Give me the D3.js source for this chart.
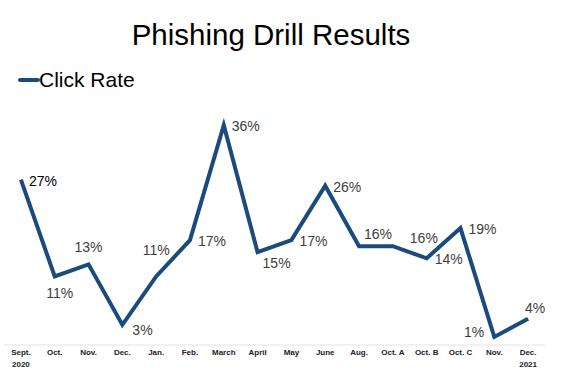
<!DOCTYPE html>
<html>
<head>
<meta charset="utf-8">
<script src="https://cdn.jsdelivr.net/npm/d3@7"></script>
<style>
  body { margin: 0; background: #fff; }
  svg { display: block; font-family: "Liberation Sans", Arial, sans-serif; }
</style>
</head>
<body>
<svg id="chart" width="563" height="379"></svg>
<script>
// chart data
const months = ['Sept.|2020', 'Oct.', 'Nov.', 'Dec.', 'Jan.', 'Feb.', 'March', 'April',
  'May', 'June', 'Aug.', 'Oct. A', 'Oct. B', 'Oct. C', 'Nov.', 'Dec.|2021']
const clickRate = [27, 11, 13, 3, 11, 17, 36, 15, 17, 26, 16, 16, 14, 19, 1, 4]
// where each data label sits relative to its point
const labelPos = ['right', 'below', 'above', 'lowRight', 'aboveFar', 'right', 'right', 'belowRight',
  'right', 'right', 'aboveRight', 'farRight', 'right', 'right', 'left', 'upRight']

const svg = d3.select('#chart')
const lineColor = '#1b4a7c'
const margin = { left: 4, right: 18, top: 101, bottom: 36 }
const width = 563, height = 379

// months repeat (Nov., Dec.), so the band scale runs on the index
const x = d3.scaleBand()
  .domain(d3.range(months.length))
  .range([margin.left, width - margin.right])
const cx = i => x(i) + x.bandwidth() / 2
const y = d3.scaleLinear()
  .domain([0, 40])
  .range([height - margin.bottom, margin.top])

// title + legend
svg.append('text')
  .attr('x', 271).attr('y', 45)
  .attr('text-anchor', 'middle')
  .attr('font-size', 29.5)
  .attr('fill', '#000')
  .text('Phishing Drill Results')

svg.append('line')
  .attr('x1', 20).attr('x2', 38)
  .attr('y1', 80).attr('y2', 80)
  .attr('stroke', lineColor).attr('stroke-width', 4).attr('stroke-linecap', 'round')
svg.append('text')
  .attr('x', 39).attr('y', 87)
  .attr('font-size', 21)
  .attr('fill', '#000')
  .text('Click Rate')

// baseline
svg.append('line')
  .attr('x1', margin.left).attr('x2', width - margin.right)
  .attr('y1', y(0) + 2).attr('y2', y(0) + 2)
  .attr('stroke', '#e3e3e3').attr('stroke-width', 1)

// category labels
svg.append('g')
  .attr('font-size', 8).attr('font-weight', 'bold').attr('fill', '#222')
  .selectAll('text')
  .data(months)
  .join('text')
  .attr('text-anchor', 'middle')
  .attr('y', 355)
  .each(function(d, i) {
    d3.select(this).selectAll('tspan')
      .data(d.split('|'))
      .join('tspan')
      .attr('x', cx(i))
      .attr('dy', (p, k) => k === 0 ? 0 : 12)
      .text(p => p)
  })

// line
const line = d3.line()
  .x((d, i) => cx(i))
  .y(d => y(d))
svg.append('path')
  .datum(clickRate)
  .attr('d', line)
  .attr('fill', 'none')
  .attr('stroke', lineColor)
  .attr('stroke-width', 4)
  .attr('stroke-linejoin', 'miter')

// data labels
const offsets = {
  right: [8, 6, 'start'],
  lowRight: [10, 10, 'start'],
  left: [-10, 0, 'end'],
  above: [0, -12, 'middle'],
  aboveFar: [0, -21, 'middle'],
  below: [5, 22, 'middle'],
  belowRight: [19, 16, 'middle'],
  aboveRight: [19, -7, 'middle'],
  farRight: [31, -3, 'middle'],
  upRight: [7, -6, 'middle']
}
svg.append('g')
  .attr('font-size', 14)
  .selectAll('text')
  .data(clickRate)
  .join('text')
  .attr('x', (d, i) => cx(i) + offsets[labelPos[i]][0])
  .attr('y', (d, i) => y(d) + offsets[labelPos[i]][1])
  .attr('text-anchor', (d, i) => offsets[labelPos[i]][2])
  .attr('fill', (d, i) => i === 0 ? '#000' : '#404040')
  .text(d => d + '%')
</script>
</body>
</html>
